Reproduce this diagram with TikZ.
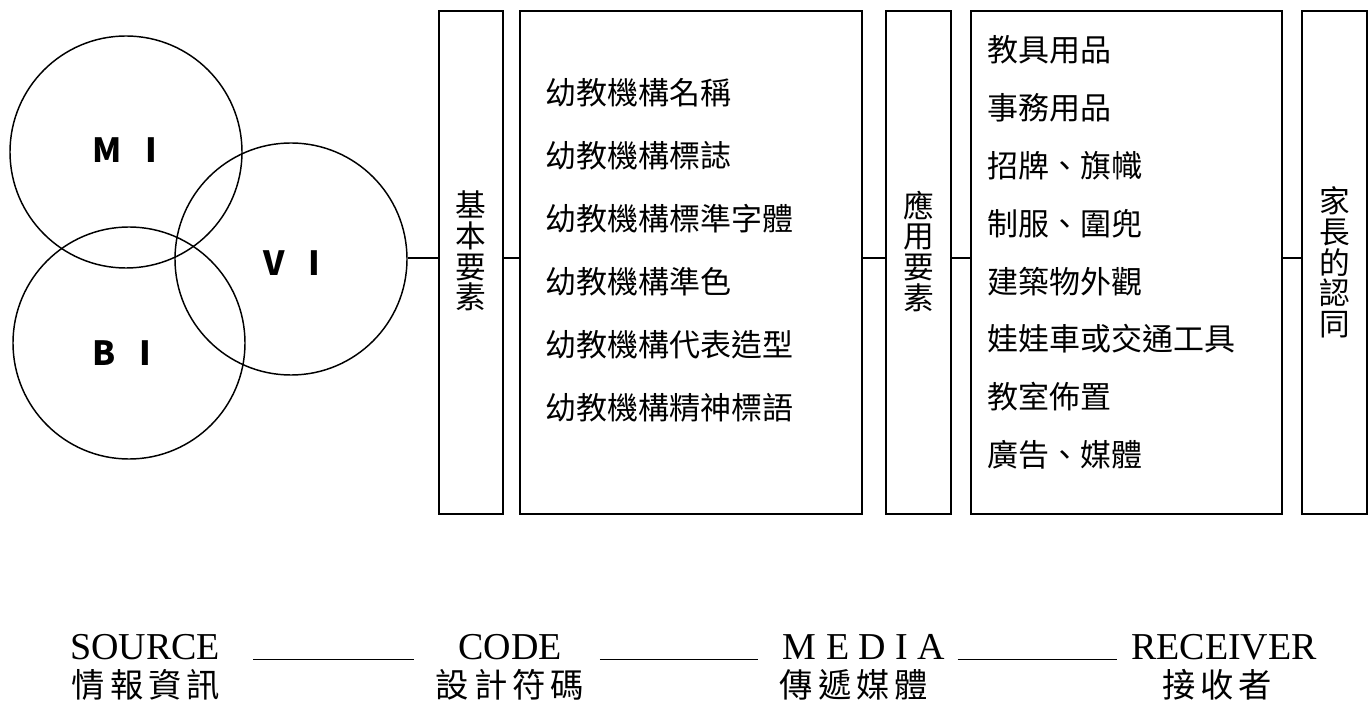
\documentclass[tikz,border=0pt]{standalone}
\usepackage{fontspec}
\setmainfont{Noto Sans CJK TC}
\newfontfamily\latinfont{Liberation Serif}
\newfontfamily\hanzifont[LetterSpace=15]{Noto Sans CJK TC}
\usepackage{tikz}
\usepackage{xcolor}

\begin{document}
\begin{tikzpicture}[x=0.75pt,y=-0.75pt,
  ring/.style={circle,draw,line width=1.1pt,minimum size=174pt},
  tag/.style={font=\bfseries\fontsize{25}{25}\selectfont,inner sep=0pt},
  panel/.style={draw,line width=1.1pt,minimum height=377.25pt,inner sep=0pt},
  upright/.style={font=\fontsize{23}{23}\selectfont,align=center,inner sep=0pt},
  item/.style={font=\fontsize{23.25}{23.25}\selectfont,anchor=west,inner sep=0pt},
  wire/.style={line width=1.1pt},
  latin/.style={font=\latinfont\fontsize{28.5}{28.5}\selectfont,inner sep=0pt,anchor=base},
  hanzi/.style={font=\hanzifont\fontsize{25}{25}\selectfont,inner sep=0pt}]
\useasboundingbox (0,0) rectangle (1372,702);

\node [ring] (MI) at (126,152) {};
\node [ring] (BI) at (129,343) {};
\node [ring] (VI) at (291,259) {};
\node [tag] (miText) at (125,150) {M\hspace{0.7em}I};
\node [tag] (viText) at (292,263) {V\hspace{0.7em}I};
\node [tag] (biText) at (122,353) {B\hspace{0.7em}I};

\node [panel,minimum width=48pt] (basic) at (471,262.5) {};
\node [panel,minimum width=256.5pt] (list1) at (691,262.5) {};
\node [panel,minimum width=48.75pt] (apply) at (918.5,262.5) {};
\node [panel,minimum width=233.25pt] (list2) at (1126.5,262.5) {};
\node [panel,minimum width=48.75pt] (parent) at (1334.5,262.5) {};

\node [upright] (basicText) at (471,251) {基\\本\\要\\素};
\node [upright] (applyText) at (918.5,251) {應\\用\\要\\素};
\node [upright] (parentText) at (1334.5,262.5) {家\\長\\的\\認\\同};

  \foreach \word/\row in {幼教機構名稱/0,幼教機構標誌/1,幼教機構標準字體/2,幼教機構準色/3,幼教機構代表造型/4,幼教機構精神標語/5}
  {  \node [item] (base\row) at (545,93+63*\row) {\word};}
  \foreach \word/\row in {教具用品/0,事務用品/1,招牌、旗幟/2,制服、圍兜/3,建築物外觀/4,娃娃車或交通工具/5,教室佈置/6,廣告、媒體/7}
  {  \node [item] (use\row) at (987,50+57.8*\row) {\word};}

\coordinate (level) at (0,258);
\draw [wire] (VI.east |- level) -- (basic.west |- level);
\draw [wire] (basic.east |- level) -- (list1.west |- level);
\draw [wire] (list1.east |- level) -- (apply.west |- level);
\draw [wire] (apply.east |- level) -- (list2.west |- level);
\draw [wire] (list2.east |- level) -- (parent.west |- level);

\node [latin] (src) at (145,659) {SOURCE};
\node [latin] (code) at (510,659) {CODE};
\node [latin] (media) at (864,659) {M E D I A};
\node [latin] (recv) at (1224,659) {RECEIVER};
\node [hanzi] (srcZh) at (146,685) {情報資訊};
\node [hanzi] (codeZh) at (510,685) {設計符碼};
\node [hanzi] (mediaZh) at (854,685) {傳遞媒體};
\node [hanzi] (recvZh) at (1217,685) {接收者};

\draw ([xshift=24.75pt]src.base east) -- ([xshift=-33pt]code.base west);
\draw ([xshift=28.5pt]code.base east) -- ([xshift=-18pt]media.base west);
\draw ([xshift=9pt]media.base east) -- ([xshift=-10.5pt]recv.base west);
\end{tikzpicture}
\end{document}
